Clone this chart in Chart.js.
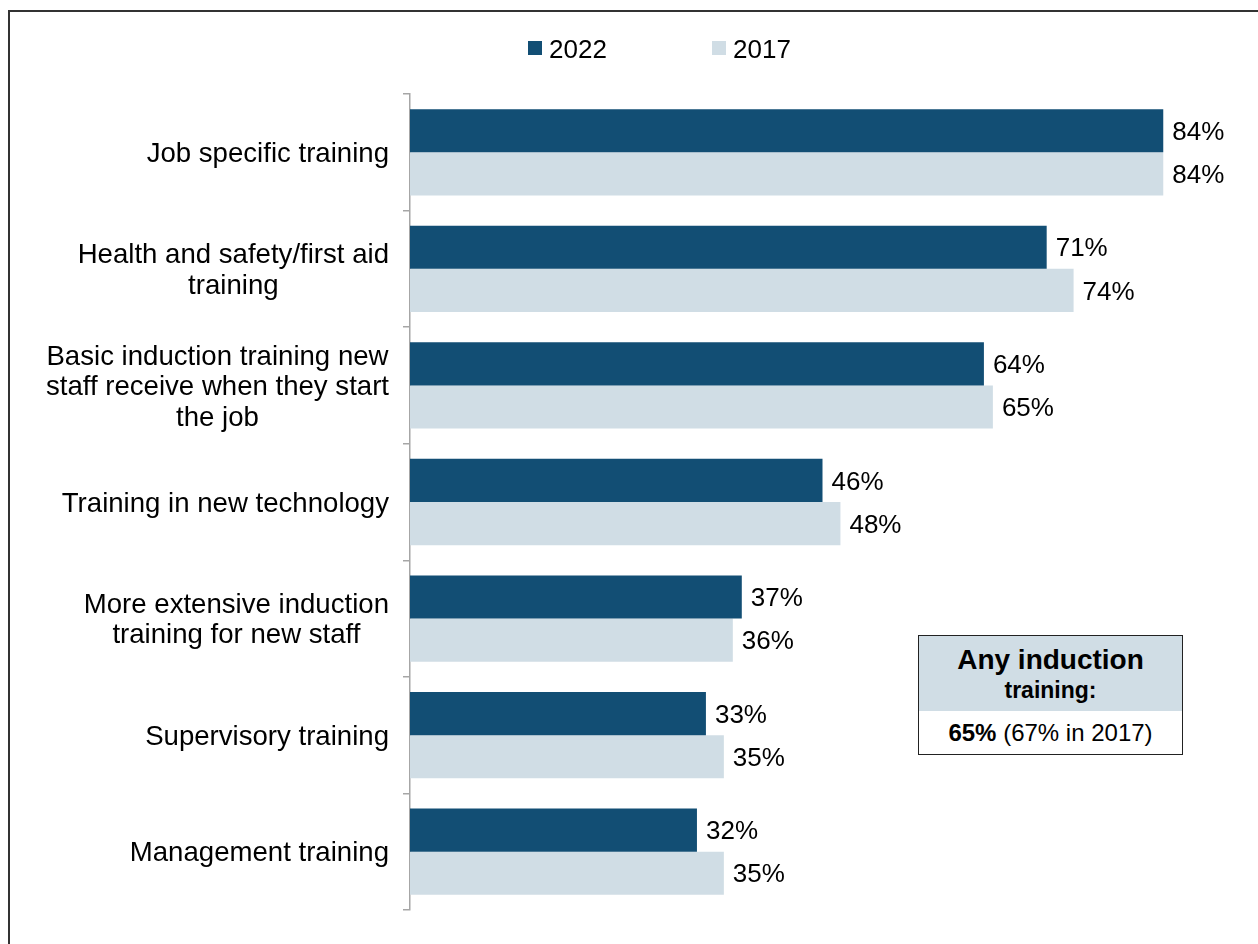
<!DOCTYPE html>
<html>
<head>
<meta charset="utf-8">
<script src="https://cdn.jsdelivr.net/npm/chart.js@4"></script>
<style>
  html, body { margin: 0; padding: 0; background: #fff; }
  body { width: 1258px; height: 944px; position: relative; overflow: hidden; font-family: "Liberation Sans", Arial, sans-serif; }
  #frame { position: absolute; left: 8px; top: 10px; width: 1300px; height: 1000px; border-left: 2px solid #333; border-top: 2px solid #333; }
  #wrap { position: absolute; left: 0; top: 0; width: 1258px; height: 944px; }
  #note { position: absolute; left: 918px; top: 635px; width: 263px; height: 118px; border: 1.5px solid #222; background: #fff; text-align: center; color: #000; }
  #note .head { background: #d0dde5; height: 75px; box-sizing: border-box; padding-top: 9px; font-weight: bold; }
  #note .big { font-size: 28px; line-height: 30px; }
  #note .small { font-size: 23px; line-height: 30px; }
  #note .foot { font-size: 24px; line-height: 44px; }
</style>
</head>
<body>
<div id="frame"></div>
<div id="wrap"><canvas id="chart" width="1258" height="944"></canvas></div>
<div id="note">
  <div class="head"><div class="big">Any induction</div><div class="small">training:</div></div>
  <div class="foot"><b>65%</b> (67% in 2017)</div>
</div>
<script>
// --- données ---
const categories = [
    'Job specific training',
    ['Health and safety/first aid', 'training'],
    ['Basic induction training new', 'staff receive when they start', 'the job'],
    'Training in new technology',
    ['More extensive induction', 'training for new staff'],
    'Supervisory training',
    'Management training'
];
const values2022 = [84, 71, 64, 46, 37, 33, 32];
const values2017 = [84, 74, 65, 48, 36, 35, 35];
const seriesLabels = ['2022', '2017'];

const DARK = '#124e74';
const LIGHT = '#d0dde5';
const FONT = '"Liberation Sans", Arial, sans-serif';

// étiquettes des catégories : bloc centré, aligné à droite contre l'axe
const catLabelsPlugin = {
    id: 'catLabels',
    afterDraw(chart) {
        const ctx = chart.ctx;
        const yScale = chart.scales.y;
        ctx.save();
        ctx.font = '27.6px ' + FONT;
        ctx.fillStyle = '#000';
        ctx.textAlign = 'center';
        ctx.textBaseline = 'middle';
        const lineH = 30.5;
        categories.forEach((label, i) => {
            const lines = Array.isArray(label) ? label : [label];
            const widest = Math.max(...lines.map(l => ctx.measureText(l).width));
            const cx = yScale.right - 21 - widest / 2;
            const cy = yScale.getPixelForTick(i) + 2;
            lines.forEach((l, k) => {
                ctx.fillText(l, cx, cy + (k - (lines.length - 1) / 2) * lineH);
            });
        });
        ctx.restore();
    }
};

// valeurs en bout de barre
const valueLabelsPlugin = {
    id: 'valueLabels',
    afterDatasetsDraw(chart) {
        const ctx = chart.ctx;
        ctx.save();
        ctx.font = '26px ' + FONT;
        ctx.fillStyle = '#000';
        ctx.textAlign = 'left';
        ctx.textBaseline = 'middle';
        chart.data.datasets.forEach((ds, di) => {
            chart.getDatasetMeta(di).data.forEach((bar, i) => {
                ctx.fillText(ds.data[i] + '%', bar.x + 9, bar.y + 2);
            });
        });
        ctx.restore();
    }
};

// légende en haut
const legendPlugin = {
    id: 'topLegend',
    afterDraw(chart) {
        const ctx = chart.ctx;
        const xs = [528, 712];
        ctx.save();
        ctx.font = '26px ' + FONT;
        ctx.textBaseline = 'middle';
        ctx.textAlign = 'left';
        chart.data.datasets.forEach((ds, i) => {
            ctx.fillStyle = ds.backgroundColor;
            ctx.fillRect(xs[i], 41, 14, 14);
            ctx.fillStyle = '#000';
            ctx.fillText(ds.label, xs[i] + 21, 51);
        });
        ctx.restore();
    }
};

const ctx = document.getElementById('chart').getContext('2d');
new Chart(ctx, {
    type: 'bar',
    data: {
        labels: categories,
        datasets: [
            { label: seriesLabels[0], data: values2022, backgroundColor: DARK, categoryPercentage: 0.74, barPercentage: 1.0 },
            { label: seriesLabels[1], data: values2017, backgroundColor: LIGHT, categoryPercentage: 0.74, barPercentage: 1.0 }
        ]
    },
    options: {
        indexAxis: 'y',
        responsive: false,
        animation: false,
        layout: { padding: { top: 94, bottom: 34, left: 0, right: 23 } },
        plugins: {
            legend: { display: false },
            tooltip: { enabled: false }
        },
        scales: {
            x: {
                display: false,
                min: 0,
                max: 92
            },
            y: {
                afterFit(scale) { scale.width = 410; },
                ticks: { display: false },
                grid: {
                    offset: true,
                    drawOnChartArea: false,
                    drawTicks: true,
                    tickLength: 7,
                    color: '#a6a6a6',
                    lineWidth: 1.5
                },
                border: { display: true, color: '#a6a6a6', width: 1.5 }
            }
        }
    },
    plugins: [catLabelsPlugin, valueLabelsPlugin, legendPlugin]
});
</script>
</body>
</html>
